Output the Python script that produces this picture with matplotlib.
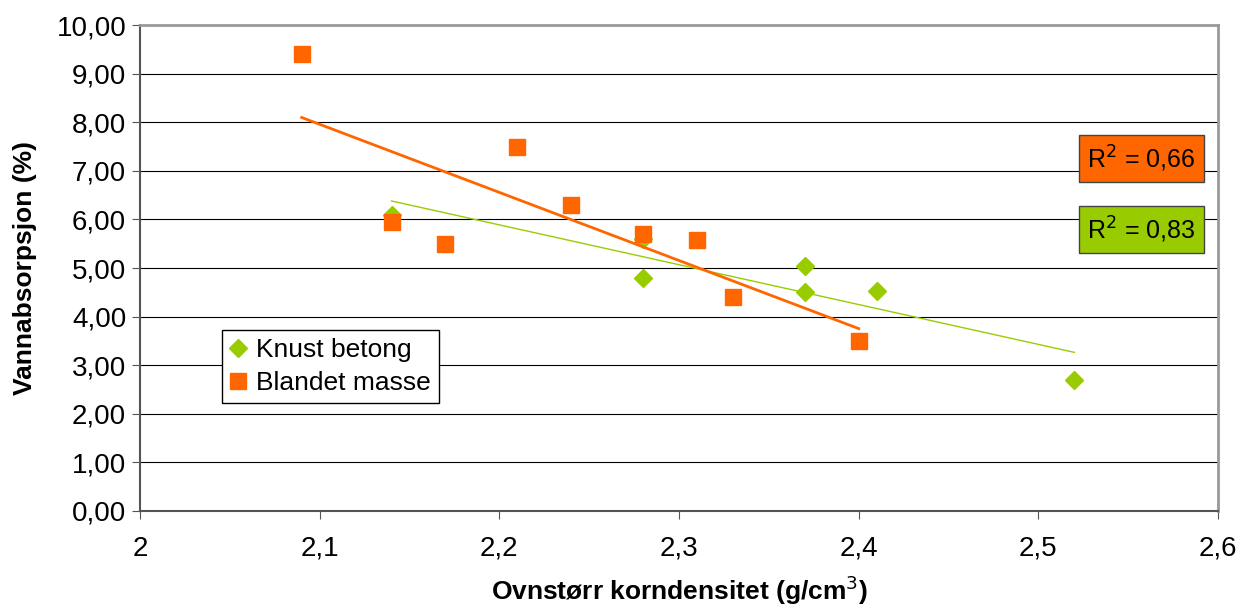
import numpy as np
import matplotlib.pyplot as plt
from matplotlib.ticker import FuncFormatter

plt.rcParams['font.family'] = ['Liberation Sans', 'DejaVu Sans']

# Knust betong (green diamonds)
knust_x = [2.14, 2.28, 2.28, 2.37, 2.37, 2.41, 2.52]
knust_y = [6.10, 5.60, 4.80, 5.05, 4.50, 4.52, 2.70]

# Blandet masse (orange squares)
blandet_x = [2.09, 2.14, 2.17, 2.21, 2.24, 2.28, 2.31, 2.33, 2.40]
blandet_y = [9.40, 5.95, 5.50, 7.50, 6.30, 5.70, 5.58, 4.40, 3.50]

r2_labels = ['R$^2$ = 0,66', 'R$^2$ = 0,83']

green = '#99CC00'
orange = '#FF6600'

fig = plt.figure(figsize=(12.48, 6.14), dpi=100)
ax = fig.add_axes([0.1122, 0.1678, 0.8638, 0.7912])

ax.set_xlim(2.0, 2.6)
ax.set_ylim(0, 10)
ax.set_xticks(np.arange(2.0, 2.61, 0.1))
ax.set_yticks(np.arange(0, 10.01, 1))
ax.xaxis.set_major_formatter(FuncFormatter(lambda v, p: ('%g' % round(v, 1)).replace('.', ',')))
ax.yaxis.set_major_formatter(FuncFormatter(lambda v, p: ('%.2f' % v).replace('.', ',')))
ax.tick_params(labelsize=20, length=6, color='#555555', direction='out')
ax.tick_params(axis='x', pad=12)
ax.tick_params(axis='y', pad=4)
ax.grid(axis='y', color='black', linewidth=0.8)
ax.set_axisbelow(True)
for s in ['left', 'bottom']:
    ax.spines[s].set_color('#555555')
    ax.spines[s].set_linewidth(1.5)
for s in ['top', 'right']:
    ax.spines[s].set_color('#999999')
    ax.spines[s].set_linewidth(2)

# linear trend lines
kf = np.polyfit(knust_x, knust_y, 1)
bf = np.polyfit(blandet_x, blandet_y, 1)
kx = np.array([min(knust_x), max(knust_x)])
bx = np.array([min(blandet_x), max(blandet_x)])

ax.plot(knust_x, knust_y, 'D', color=green, markersize=9, linestyle='none',
        label='Knust betong', zorder=3)
ax.plot(blandet_x, blandet_y, 's', color=orange, markersize=11, linestyle='none',
        label='Blandet masse', zorder=4)
ax.plot(kx, np.polyval(kf, kx), color=green, linewidth=1.0, zorder=5)
ax.plot(bx, np.polyval(bf, bx), color=orange, linewidth=2.0, zorder=5)

ax.text(2.5574, 7.25, r2_labels[0], fontsize=18, ha='center', va='center',
        bbox=dict(boxstyle='square,pad=0.33', facecolor=orange, edgecolor='#444444'))
ax.text(2.5574, 5.79, r2_labels[1], fontsize=18, ha='center', va='center',
        bbox=dict(boxstyle='square,pad=0.33', facecolor=green, edgecolor='#444444'))

leg = ax.legend(loc='lower left', bbox_to_anchor=(0.076, 0.222), fontsize=19,
                frameon=True, fancybox=False, edgecolor='black', framealpha=1,
                handlelength=0.6, handletextpad=0.4, borderpad=0.3, labelspacing=0.35,
                borderaxespad=0)
leg.get_frame().set_linewidth(1.0)

ax.set_xlabel('Ovnstørr korndensitet (g/cm$^3$)', fontsize=19, fontweight='bold', labelpad=8)
ax.set_ylabel('Vannabsorpsjon (%)', fontsize=19, fontweight='bold', labelpad=14)

fig.savefig('out.png', dpi=100)
